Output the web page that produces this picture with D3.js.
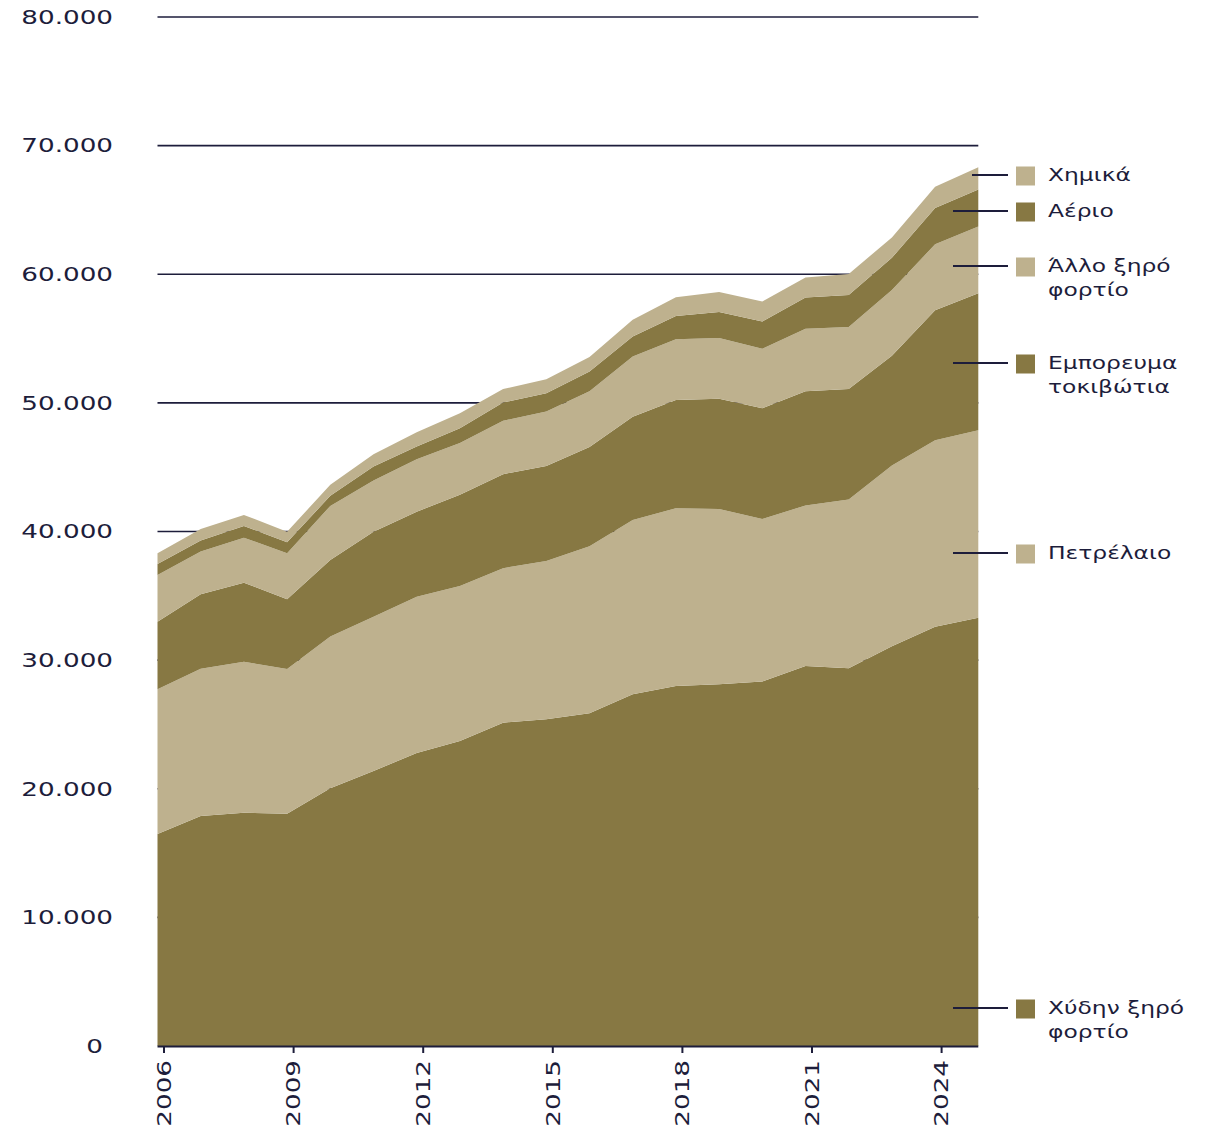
<!DOCTYPE html>
<html>
<head>
<meta charset="utf-8">
<script src="https://cdn.jsdelivr.net/npm/d3@7"></script>
<style>
  body { margin: 0; background: #ffffff; }
  svg { display: block; }
  text { font-family: "DejaVu Sans", sans-serif; fill: #1d1d3b; }
</style>
</head>
<body>
<svg id="chart" width="1226" height="1131"></svg>
<script>
// ---------------- DATA ----------------
const years = [2006, 2007, 2008, 2009, 2010, 2011, 2012, 2013, 2014, 2015,
               2016, 2017, 2018, 2019, 2020, 2021, 2022, 2023, 2024, 2025];

const bulkDry    = [16490, 17890, 18140, 18060, 20040, 21380, 22780, 23720, 25140, 25400,
                    25870, 27350, 27990, 28130, 28330, 29540, 29360, 31070, 32600, 33300];
const oil        = [11240, 11430, 11740, 11250, 11790, 12000, 12150, 12050, 12010, 12310,
                    12990, 13550, 13820, 13610, 12650, 12480, 13130, 14060, 14490, 14570];
const containers = [5260, 5810, 6140, 5420, 5960, 6610, 6610, 7080, 7310, 7390,
                    7710, 8030, 8420, 8580, 8610, 8880, 8590, 8530, 10120, 10650];
const otherDry   = [3630, 3310, 3500, 3580, 4200, 3970, 4080, 4040, 4150, 4220,
                    4340, 4670, 4720, 4720, 4610, 4860, 4810, 5120, 5120, 5200];
const gas        = [855, 855, 910, 860, 780, 1090, 980, 1140, 1420, 1430,
                    1520, 1560, 1810, 2020, 2120, 2440, 2500, 2500, 2820, 2870];
const chemicals  = [830, 890, 860, 820, 855, 960, 1120, 1170, 1040, 1090,
                    1140, 1300, 1450, 1560, 1560, 1550, 1630, 1580, 1660, 1730];

const seriesKeys  = ["bulkDry", "oil", "containers", "otherDry", "gas", "chemicals"];
const seriesData  = [bulkDry, oil, containers, otherDry, gas, chemicals];
const legendLabels = [["Χύδην ξηρό", "φορτίο"], ["Πετρέλαιο"], ["Εμπορευμα", "τοκιβώτια"],
                      ["Άλλο ξηρό", "φορτίο"], ["Αέριο"], ["Χημικά"]];

const yTickValues = [0, 10000, 20000, 30000, 40000, 50000, 60000, 70000, 80000];
const yTickLabels = ["0", "10.000", "20.000", "30.000", "40.000", "50.000", "60.000", "70.000", "80.000"];
const xTickValues = [2006, 2009, 2012, 2015, 2018, 2021, 2024];

// ---------------- STYLE / LAYOUT ----------------
const DARK = "#877843";
const LIGHT = "#beb18e";
const INK = "#1d1d3b";
const seriesColors = [DARK, LIGHT, DARK, LIGHT, DARK, LIGHT];
const legendRowY = [1008, 553, 363, 266, 211, 175];
const legendLineStart = [953, 953, 953, 953, 953, 972];
const STRETCH = 1.38;

const svg = d3.select("#chart");

const x = d3.scaleLinear().domain([2006, 2025]).range([157.5, 978.3]);
const y = d3.scaleLinear().domain([0, 80000]).range([1046, 17]);

// rows for stacking
const rows = years.map((yr, i) => {
  const r = { year: yr };
  seriesKeys.forEach((k, j) => { r[k] = seriesData[j][i]; });
  return r;
});
const stacked = d3.stack().keys(seriesKeys)(rows);

// gridlines (behind the areas)
svg.append("g").selectAll("line")
  .data(yTickValues.filter(v => v > 0))
  .join("line")
  .attr("x1", x(2006)).attr("x2", x(2025))
  .attr("y1", d => y(d)).attr("y2", d => y(d))
  .attr("stroke", INK).attr("stroke-width", 1.6);

// areas
const area = d3.area()
  .x(d => x(d.data.year))
  .y0(d => y(d[0]))
  .y1(d => y(d[1]));

svg.append("g").selectAll("path")
  .data(stacked)
  .join("path")
  .attr("d", area)
  .attr("fill", (d, i) => seriesColors[i]);

// y labels
const yLab = svg.append("g");
yTickValues.forEach((v, i) => {
  const g = yLab.append("g")
    .attr("transform", `translate(${v === 0 ? 103 : 113},${y(v)})`);
  g.append("text")
    .attr("transform", `scale(${STRETCH},1)`)
    .attr("text-anchor", "end")
    .attr("dy", "0.36em")
    .attr("font-size", 19)
    .text(yTickLabels[i]);
});

// x axis baseline
svg.append("line")
  .attr("x1", x(2006)).attr("x2", x(2025))
  .attr("y1", y(0) + 0.5).attr("y2", y(0) + 0.5)
  .attr("stroke", INK).attr("stroke-width", 2);

// x axis ticks + labels
const xAxis = d3.axisBottom(x).tickValues(xTickValues).tickSize(7).tickFormat(d3.format("d"));
const xg = svg.append("g").attr("transform", `translate(6,${y(0)})`).call(xAxis);
xg.select(".domain").remove();
xg.selectAll(".tick line").attr("stroke", INK).attr("stroke-width", 2);
xg.selectAll(".tick text")
  .attr("x", null).attr("y", null).attr("dy", "0.36em")
  .attr("text-anchor", "end")
  .attr("font-size", 19)
  .attr("font-family", "DejaVu Sans, sans-serif")
  .attr("fill", INK)
  .attr("transform", `translate(0,14) rotate(-90) scale(${STRETCH},1)`);

// legend
const lg = svg.append("g");
seriesKeys.forEach((k, i) => {
  const yy = legendRowY[i];
  lg.append("line")
    .attr("x1", legendLineStart[i]).attr("x2", 1008)
    .attr("y1", yy).attr("y2", yy)
    .attr("stroke", INK).attr("stroke-width", 2);
  lg.append("rect")
    .attr("x", 1016).attr("y", yy - 8.5)
    .attr("width", 19).attr("height", 19)
    .attr("fill", seriesColors[i]);
  legendLabels[i].forEach((line, li) => {
    const g = lg.append("g").attr("transform", `translate(1048,${yy + li * 24})`);
    g.append("text")
      .attr("transform", `scale(1.3,1)`)
      .attr("dy", "0.36em")
      .attr("font-size", 18)
      .text(line);
  });
});
</script>
</body>
</html>
